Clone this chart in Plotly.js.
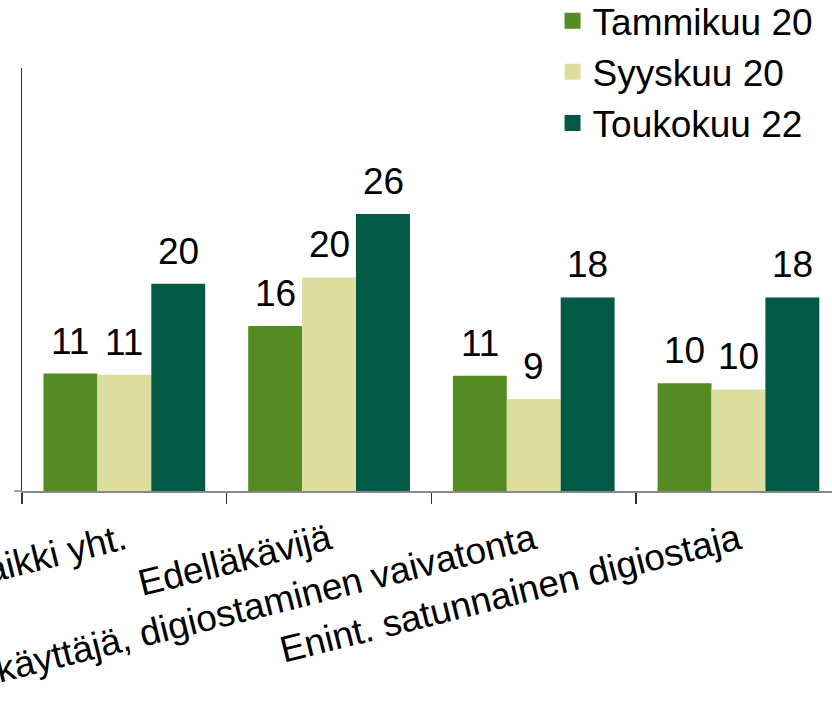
<!DOCTYPE html>
<html>
<head>
<meta charset="utf-8">
<script src="https://cdn.plot.ly/plotly-3.0.1.min.js"></script>
<style>html,body{margin:0;padding:0;background:#fff;}#chart{width:832px;height:706px;}</style>
</head>
<body>
<div id="chart"></div>
<script>
const categories = ["Kaikki yht.", "Edelläkävijä", "Arkikäyttäjä, digiostaminen vaivatonta", "Enint. satunnainen digiostaja"];
const seriesNames = ["Tammikuu 20", "Syyskuu 20", "Toukokuu 22"];
const tammikuu20 = [11.1, 15.6, 10.9, 10.2];
const syyskuu20 = [11.0, 20.2, 8.7, 9.6];
const toukokuu22 = [19.6, 26.2, 18.3, 18.3];
const colors = ["#558B23", "#DDDDA0", "#005A46"];

const FONT = "Liberation Sans, Arial, sans-serif";
const allValues = [tammikuu20, syyskuu20, toukokuu22];

// bars (legend drawn by marker-only proxies so the swatches can be larger)
const traces = allValues.map((vals, i) => ({
  type: "bar",
  name: seriesNames[i],
  x: categories,
  y: vals,
  marker: {color: colors[i], line: {width: 0}},
  showlegend: false,
  hoverinfo: "none"
}));
const legendTraces = seriesNames.map((nm, i) => ({
  type: "scatter", mode: "markers",
  name: nm, x: [null], y: [null],
  marker: {symbol: "square", size: 18, color: colors[i]},
  showlegend: true, hoverinfo: "none"
}));

// value labels above bars, positioned in data coordinates
const barOffsetPx = [-54, 0, 54];
const annotations = [];
allValues.forEach((vals, i) => {
  vals.forEach((v, j) => {
    annotations.push({
      x: categories[j], y: v, xref: "x", yref: "y",
      text: String(Math.round(v)),
      showarrow: false, xanchor: "center", yanchor: "bottom",
      xshift: barOffsetPx[i], yshift: 10,
      font: {family: FONT, size: 37, color: "#000"}
    });
  });
});

const layout = {
  width: 832, height: 706,
  margin: {l: 22, r: 0, t: 68, b: 215, autoexpand: false},
  paper_bgcolor: "#fff", plot_bgcolor: "#fff",
  font: {family: FONT, color: "#000"},
  barmode: "group",
  bargap: 0.21,
  bargroupgap: 0,
  showlegend: true,
  legend: {
    x: 0.655, xanchor: "left", y: 1.184, yanchor: "top",
    font: {size: 37, color: "#000"},
    bgcolor: "rgba(0,0,0,0)", tracegroupgap: 0
  },
  xaxis: {
    type: "category",
    range: [-0.5, 3.457],
    showline: true, linecolor: "#888", linewidth: 1.5,
    ticks: "outside", tickson: "boundaries", ticklen: 11, tickcolor: "#333", tickwidth: 1.5,
    tickangle: -14,
    ticklabelstandoff: 12,
    tickfont: {size: 37, color: "#000"},
    showgrid: false, zeroline: false, automargin: false
  },
  yaxis: {
    range: [0, 40],
    showline: true, linecolor: "#333", linewidth: 1.5,
    ticks: "", showticklabels: false,
    showgrid: false, zeroline: false
  },
  annotations: annotations,
  shapes: [{
    type: "line", xref: "paper", yref: "paper",
    x0: -0.01, x1: 0, y0: 0, y1: 0,
    line: {color: "#888", width: 1.5}
  }]
};

Plotly.newPlot("chart", traces.concat(legendTraces), layout, {staticPlot: true, displayModeBar: false});
</script>
</body>
</html>
